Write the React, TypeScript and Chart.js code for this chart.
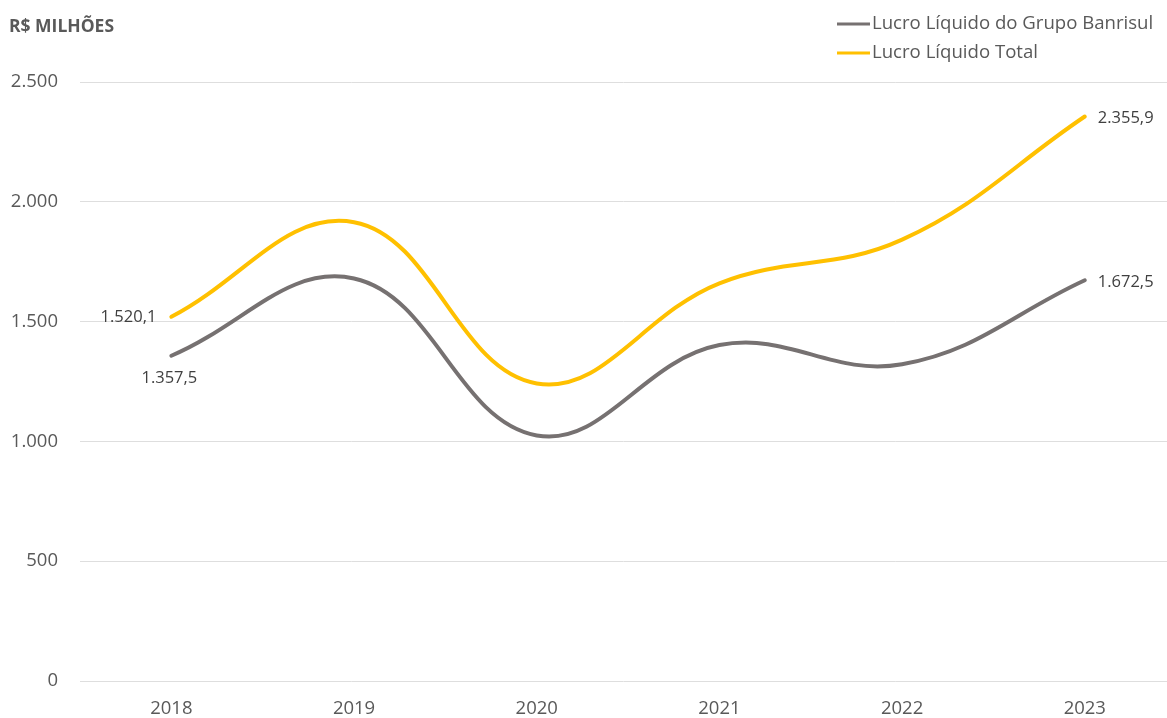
import React, { useEffect, useRef } from "react";
import { Chart, registerables } from "chart.js";

Chart.register(...registerables);

const years = ["2018", "2019", "2020", "2021", "2022", "2023"];
const lucroGrupo = [1357.5, 1680, 1025, 1402, 1322, 1672.5];
const lucroTotal = [1520.1, 1915, 1242, 1660, 1842, 2355.9];
const yTicks = [0, 500, 1000, 1500, 2000, 2500];
const seriesNames = ["Lucro Líquido do Grupo Banrisul", "Lucro Líquido Total"];
const seriesColors = ["#767171", "#FFC000"];
const unitTitle = "R$ MILHÕES";

const FONT = "'Open Sans', sans-serif";
const TEXT = "#595959";

const fmt = (v: number) =>
  v.toLocaleString("pt-BR", { minimumFractionDigits: 1, maximumFractionDigits: 1 });

const overlay = {
  id: "overlay",
  afterDatasetsDraw(chart: any) {
    const ctx = chart.ctx;
    ctx.save();
    // title
    ctx.fillStyle = TEXT;
    ctx.font = `bold 17.5px ${FONT}`;
    ctx.textAlign = "left";
    ctx.textBaseline = "middle";
    ctx.fillText(unitTitle, 9, 27);
    // legend
    const legendX = 837;
    const legendYs = [24, 53];
    seriesNames.forEach((name, i) => {
      ctx.strokeStyle = seriesColors[i];
      ctx.lineWidth = 3;
      ctx.beginPath();
      ctx.moveTo(legendX, legendYs[i]);
      ctx.lineTo(legendX + 33, legendYs[i]);
      ctx.stroke();
      ctx.fillStyle = TEXT;
      ctx.font = `18.6px ${FONT}`;
      ctx.textAlign = "left";
      ctx.fillText(name, legendX + 35, legendYs[i]);
    });
    // data labels
    ctx.font = `16.5px ${FONT}`;
    ctx.fillStyle = "#404040";
    const g = chart.getDatasetMeta(0).data;
    const t = chart.getDatasetMeta(1).data;
    const last = years.length - 1;
    ctx.textAlign = "right";
    ctx.fillText(fmt(lucroTotal[0]), t[0].x - 15, t[0].y + 1);
    ctx.textAlign = "center";
    ctx.fillText(fmt(lucroGrupo[0]), g[0].x - 2, g[0].y + 23);
    ctx.textAlign = "left";
    ctx.fillText(fmt(lucroTotal[last]), t[last].x + 13, t[last].y + 2);
    ctx.fillText(fmt(lucroGrupo[last]), t[last].x + 13, g[last].y + 2);
    ctx.restore();
  },
};

export default function App() {
  const ref = useRef<HTMLCanvasElement | null>(null);

  useEffect(() => {
    document.body.style.margin = "0";
    const chart = new Chart(ref.current as HTMLCanvasElement, {
      type: "line",
      data: {
        datasets: [
          {
            label: seriesNames[0],
            data: lucroGrupo.map((v, i) => ({ x: i, y: v })),
            borderColor: seriesColors[0],
            backgroundColor: seriesColors[0],
            borderWidth: 4,
            pointRadius: 0,
            tension: 0.4,
            borderCapStyle: "round",
          },
          {
            label: seriesNames[1],
            data: lucroTotal.map((v, i) => ({ x: i, y: v })),
            borderColor: seriesColors[1],
            backgroundColor: seriesColors[1],
            borderWidth: 4,
            pointRadius: 0,
            tension: 0.4,
            borderCapStyle: "round",
          },
        ],
      },
      options: {
        animation: false,
        responsive: false,
        maintainAspectRatio: false,
        layout: { padding: { top: 82, right: 0, left: 0, bottom: 0 } },
        plugins: {
          legend: { display: false },
          tooltip: { enabled: false },
          title: { display: false },
        },
        scales: {
          x: {
            type: "linear",
            min: -0.5,
            max: 5.45,
            grid: { display: false },
            border: { display: false },
            afterBuildTicks: (scale: any) => {
              scale.ticks = years.map((_, i) => ({ value: i }));
            },
            afterFit: (scale: any) => {
              scale.height = 37;
            },
            ticks: {
              autoSkip: false,
              maxRotation: 0,
              padding: 9,
              color: TEXT,
              font: { family: FONT, size: 18.5 },
              callback: (v: any) => years[v as number] ?? "",
            },
          },
          y: {
            min: 0,
            max: 2500,
            afterBuildTicks: (scale: any) => {
              scale.ticks = yTicks.map((v) => ({ value: v }));
            },
            afterFit: (scale: any) => {
              scale.width = 80;
            },
            grid: { color: "#dedede", lineWidth: 1, drawTicks: false },
            border: { display: false },
            ticks: {
              padding: 22,
              color: TEXT,
              font: { family: FONT, size: 18.5 },
              callback: (v: any) => Number(v).toLocaleString("pt-BR"),
            },
          },
        },
      },
      plugins: [overlay],
    } as any);
    return () => chart.destroy();
  }, []);

  return (
    <div style={{ position: "absolute", left: 0, top: 0, width: 1167, height: 718, background: "#fff" }}>
      <canvas ref={ref} width={1167} height={718} />
    </div>
  );
}
